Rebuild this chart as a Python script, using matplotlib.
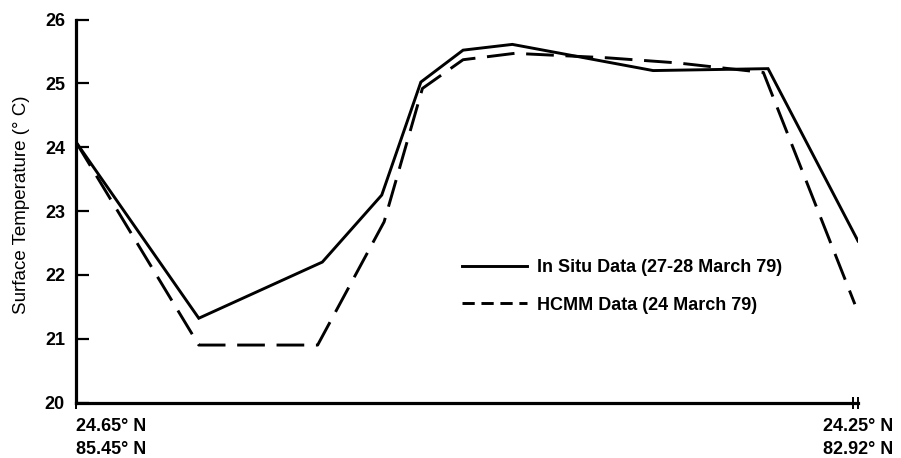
import matplotlib
matplotlib.use("Agg")
import matplotlib.pyplot as plt
from matplotlib.lines import Line2D

# ---- data (transect position 0-100 from first to last station) ----
insitu_x = [0, 15.7, 31.5, 39.1, 44.1, 49.5, 55.8, 73.8, 88.5, 100]
insitu_y = [24.08, 21.32, 22.2, 23.25, 25.02, 25.52, 25.61, 25.2, 25.23, 22.53]

hcmm_x = [0, 15.7, 30.9, 39.4, 44.3, 49.5, 56.1, 67.9, 76.9, 87.9, 99.6]
hcmm_y = [24.08, 20.9, 20.9, 22.83, 24.92, 25.37, 25.47, 25.40, 25.32, 25.17, 21.54]

y_ticks = [20, 21, 22, 23, 24, 25, 26]
x_tick_pos = [0, 100]
x_tick_labels = ["24.65° N\n85.45° N", "24.25° N\n82.92° N"]
insitu_label = "In Situ Data (27-28 March 79)"
hcmm_label = "HCMM Data (24 March 79)"
y_label = "Surface Temperature (° C)"

plt.rcParams['font.family'] = ['Liberation Sans', 'DejaVu Sans']

fig = plt.figure(figsize=(9.01, 4.58), dpi=100)
ax = fig.add_axes([76/901, 55.5/458, 782/901, 383/458])

lw = 2.1
ax.plot(insitu_x, insitu_y, color='black', lw=lw, solid_joinstyle='miter')
ax.plot(hcmm_x, hcmm_y, color='black', lw=lw, dashes=(9.5, 4))

ax.set_xlim(0, 100)
ax.set_ylim(20, 26)

for s in ['top', 'right']:
    ax.spines[s].set_visible(False)
for s in ['left', 'bottom']:
    ax.spines[s].set_linewidth(2.3)

ax.set_yticks(y_ticks)
ax.set_yticklabels([str(v) for v in y_ticks], fontweight='bold', fontsize=13)
ax.tick_params(axis='y', direction='in', length=9, width=1.6, pad=8)

ax.set_xticks(x_tick_pos)
ax.set_xticklabels(x_tick_labels, fontweight='bold', fontsize=13, linespacing=1.5)
ax.set_xticks([99.3], minor=True)
ax.tick_params(axis='x', which='both', direction='inout', length=8, width=1.4, pad=7)
labs = ax.get_xticklabels()
labs[0].set_ha('left')
labs[1].set_ha('center')

ax.set_ylabel(y_label, fontsize=13.5, fontweight='medium')
ax.yaxis.set_label_coords(-0.0588, 0.516)

handles = [Line2D([], [], color='black', lw=lw),
           Line2D([], [], color='black', lw=lw, dashes=(4.2, 2.3))]
leg = ax.legend(handles, [insitu_label, hcmm_label], frameon=False,
                loc='upper left', bbox_to_anchor=((462-76)/782, (402.5-259)/383),
                borderpad=0, borderaxespad=0, handlelength=3.6, handletextpad=0.55,
                labelspacing=1.15, prop={'weight': 'bold', 'size': 13})

fig.savefig("out.png", dpi=100)
